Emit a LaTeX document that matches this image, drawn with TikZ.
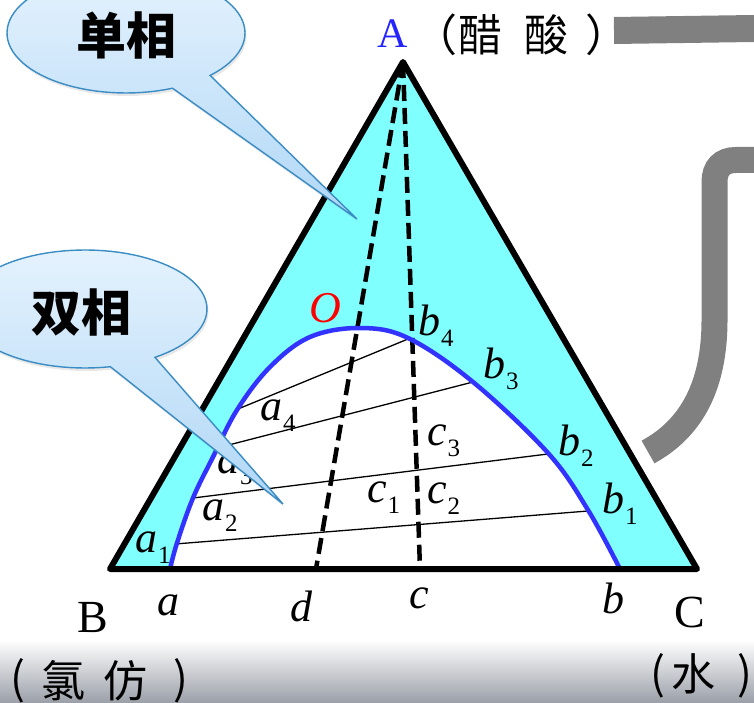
\documentclass[tikz,border=0pt]{standalone}
\usepackage{fontspec}
\setmainfont{Liberation Serif}
\newfontfamily\cjk{Noto Sans CJK SC}
\usetikzlibrary{shadows}
\definecolor{tricyan}{HTML}{80FFFF}
\definecolor{curveblue}{HTML}{3333FF}
\definecolor{bargray}{HTML}{808080}
\definecolor{cTop}{HTML}{E4F2FD}
\definecolor{cBot}{HTML}{B0D7F6}
\definecolor{cEdge}{HTML}{3A8CC4}
\definecolor{floorgray}{HTML}{9A9FA8}
\definecolor{labblue}{HTML}{2424FF}
\newcommand\lab[2]{#1\kern1pt\raisebox{-11pt}{\upshape\fontsize{25}{25}\selectfont #2}}
\tikzset{
  lbl/.style={inner sep=0pt, anchor=base west, font=\fontsize{44}{44}\selectfont\itshape},
  upr/.style={inner sep=0pt, anchor=base west, font=\fontsize{46}{46}\selectfont},
  cjkt/.style={inner sep=0pt, font=\cjk\fontsize{44}{44}\selectfont},
  calltext/.style={inner sep=0pt, font=\cjk\bfseries\fontsize{50}{50}\selectfont},
  tie/.style={draw=black, line width=1.3pt},
  dsh/.style={draw=black, line width=4.5pt, dash pattern=on 16pt off 7pt},
  binodal/.style={draw=curveblue, line width=4.5pt, line join=round},
  callout/.style={draw=cEdge, line width=1.4pt, top color=cTop, bottom color=cBot,
    drop shadow={opacity=0.18, shadow xshift=1.5pt, shadow yshift=-3pt}},
  bar/.style={draw=bargray, line width=26pt},
}
\begin{document}
\begin{tikzpicture}[x=1pt,y=-1pt]
\useasboundingbox (0,0) rectangle (754,703);
\clip (0,0) rectangle (754,703);
% floor shading
\shade[top color=white, bottom color=floorgray] (0,640) rectangle (754,703);

% gray connectors
\coordinate (g1) at (614,30.5);
\coordinate (g2) at (754,28.5);
\draw[bar, line width=27pt] (g1) -- (g2);
\coordinate (h1) at (754,160);
\coordinate (h2) at (648,452);
\draw[bar] (h1) -- (736,160) .. controls (722,160) and (714.5,168) .. (714.5,182)
   -- (714.5,320) .. controls (714.5,385) and (692,428) .. (h2);

% triangle
\coordinate (A) at (403,62);
\coordinate (B) at (110,569);
\coordinate (C) at (697,569);
\fill[tricyan] (A) -- (B) -- (C) -- cycle;
\fill[white] plot[smooth, tension=0.6] coordinates {(170,569) (177,543) (193,498) (213,457) (237,410) (270,367) (310,337) (360,328) (408,338) (473,382) (548,453) (588,510) (620,569)} -- cycle;

% dashed lines
\coordinate (d) at (316,569);
\coordinate (c) at (420,569);
\draw[dsh] (A) -- (d);
\draw[dsh] (A) -- (c);

% tie lines
\coordinate (a1p) at (175,544); \coordinate (b1p) at (588,511);
\coordinate (a2p) at (193,498); \coordinate (b2p) at (548,454);
\coordinate (a3p) at (217,448); \coordinate (b3p) at (473,382);
\coordinate (a4p) at (238,409); \coordinate (b4p) at (408,339);
\draw[tie] (a1p) -- (b1p);
\draw[tie] (a2p) -- (b2p);
\draw[tie] (a3p) -- (b3p);
\draw[tie] (a4p) -- (b4p);

% binodal curve
\draw[binodal] plot[smooth, tension=0.6] coordinates {(170,569) (177,543) (193,498) (213,457) (237,410) (270,367) (310,337) (360,328) (408,338) (473,382) (548,453) (588,510) (620,569)};

% triangle border
\draw[line width=6pt, line join=round] (A) -- (B) -- (C) -- cycle;

% labels inside
\node[lbl] (la1) at (135,552) {\lab{a}{1}};
\node[lbl] (la2) at (202,520) {\lab{a}{2}};
\node[lbl] (la3) at (217,473) {\lab{a}{3}};
\node[lbl] (la4) at (260,420) {\lab{a}{4}};
\node[lbl] (lb4) at (418,335) {\lab{b}{4}};
\node[lbl] (lb3) at (483,378) {\lab{b}{3}};
\node[lbl] (lb2) at (558,455) {\lab{b}{2}};
\node[lbl] (lb1) at (602,513) {\lab{b}{1}};
\node[lbl] (lc3) at (427,445) {\lab{c}{3}};
\node[lbl] (lc1) at (367,502) {\lab{c}{1}};
\node[lbl] (lc2) at (427,503) {\lab{c}{2}};
\node[lbl, text=red] (lO) at (309,322) {O};

% bottom labels
\node[upr] (lB) at (77,632) {B};
\node[lbl] (la) at (157,615) {a};
\node[lbl] (ld) at (290,621) {d};
\node[lbl] (lc) at (409,608) {c};
\node[lbl] (lb) at (602,613) {b};
\node[upr] (lC) at (674,627) {C};
\node[upr, font=\fontsize{42}{42}\selectfont, text=labblue] (lA) at (377,48) {A};

% chinese names: acetic acid
\node[cjkt, anchor=west] (ap1) at (413,35) {（};
\node[cjkt] (ac1) at (480,35) {醋};
\node[cjkt] (ac2) at (546,35) {酸};
\node[cjkt, anchor=west] (ap2) at (585,35) {）};
% chloroform
\node[cjkt] (cp1) at (18,681) {(};
\node[cjkt] (ch1) at (63,681) {氯};
\node[cjkt] (ch2) at (125,681) {仿};
\node[cjkt] (cp2) at (181,681) {)};
% water
\node[cjkt] (wp1) at (658,676) {(};
\node[cjkt] (wa) at (693,674) {水};
\node[cjkt] (wp2) at (745,676) {)};

% callouts
\coordinate (t1) at (357,219);
\path[callout] plot[domain=67:405, samples=90, variable=\t] ({126+119*cos(\t)},{33+60*sin(\t)}) -- (t1) -- cycle;
\node[calltext] (single) at (126,36) {单相};
\coordinate (t2) at (283,504);
\path[callout] plot[domain=78:415, samples=90, variable=\t] ({85+122*cos(\t)},{309+59*sin(\t)}) -- (t2) -- cycle;
\node[calltext] (double) at (81,312) {双相};
\end{tikzpicture}
\end{document}
